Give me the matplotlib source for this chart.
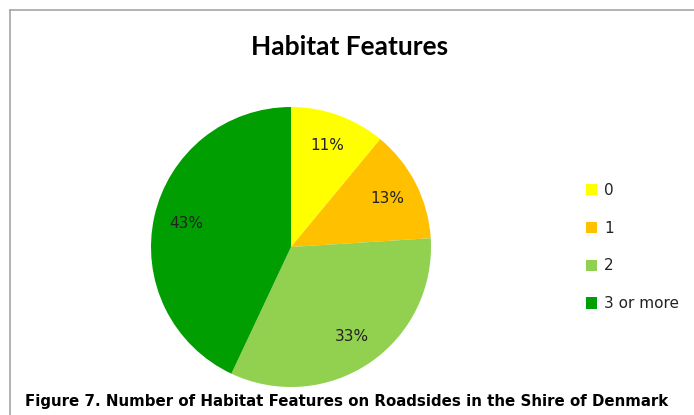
import matplotlib
matplotlib.use("Agg")
import matplotlib.pyplot as plt
from matplotlib.lines import Line2D

categories = ["0", "1", "2", "3 or more"]
values = [11, 13, 33, 43]
colors = ["#FFFF00", "#FFC000", "#92D050", "#009E00"]

W, H = 694, 415
fig = plt.figure(figsize=(W / 100, H / 100), dpi=100)
fig.patch.set_facecolor("white")

# chart border
fig.add_artist(Line2D([9.5 / W, 9.5 / W], [0, 1 - 10.5 / H], color="#a6a6a6", lw=1.2, transform=fig.transFigure))
fig.add_artist(Line2D([9.5 / W, 1], [1 - 10.5 / H, 1 - 10.5 / H], color="#a6a6a6", lw=1.2, transform=fig.transFigure))

cx, cy, r = 291, 247, 140
ax = fig.add_axes([(cx - r) / W, (H - cy - r) / H, 2 * r / W, 2 * r / H])
wedges, texts, autotexts = ax.pie(
    values, colors=colors, startangle=90, counterclock=False,
    autopct=lambda p: f"{p:.0f}%", pctdistance=0.77,
    wedgeprops=dict(linewidth=0),
    textprops=dict(fontsize=11, color="#222222", family="DejaVu Sans"))
ax.set_aspect("equal")
ax.set_xlim(-1, 1)
ax.set_ylim(-1, 1)

fig.text(350 / W, 1 - 47 / H, "Habitat Features", ha="center", va="center",
         fontsize=19, fontweight="bold", family="Lato")

leg = fig.legend(wedges, categories, loc="upper left", bbox_to_anchor=(578 / W, 1 - 175 / H),
                 frameon=False, fontsize=11, handlelength=0.75, handleheight=0.75,
                 labelspacing=1.5, handletextpad=0.45, borderpad=0)
for t in leg.get_texts():
    t.set_color("#222222")

fig.text(25 / W, 1 - 401 / H, "Figure 7. Number of Habitat Features on Roadsides in the Shire of Denmark",
         ha="left", va="center", fontsize=10.8, fontweight="bold", family="Liberation Sans Narrow")

fig.savefig("out.png", dpi=100)
